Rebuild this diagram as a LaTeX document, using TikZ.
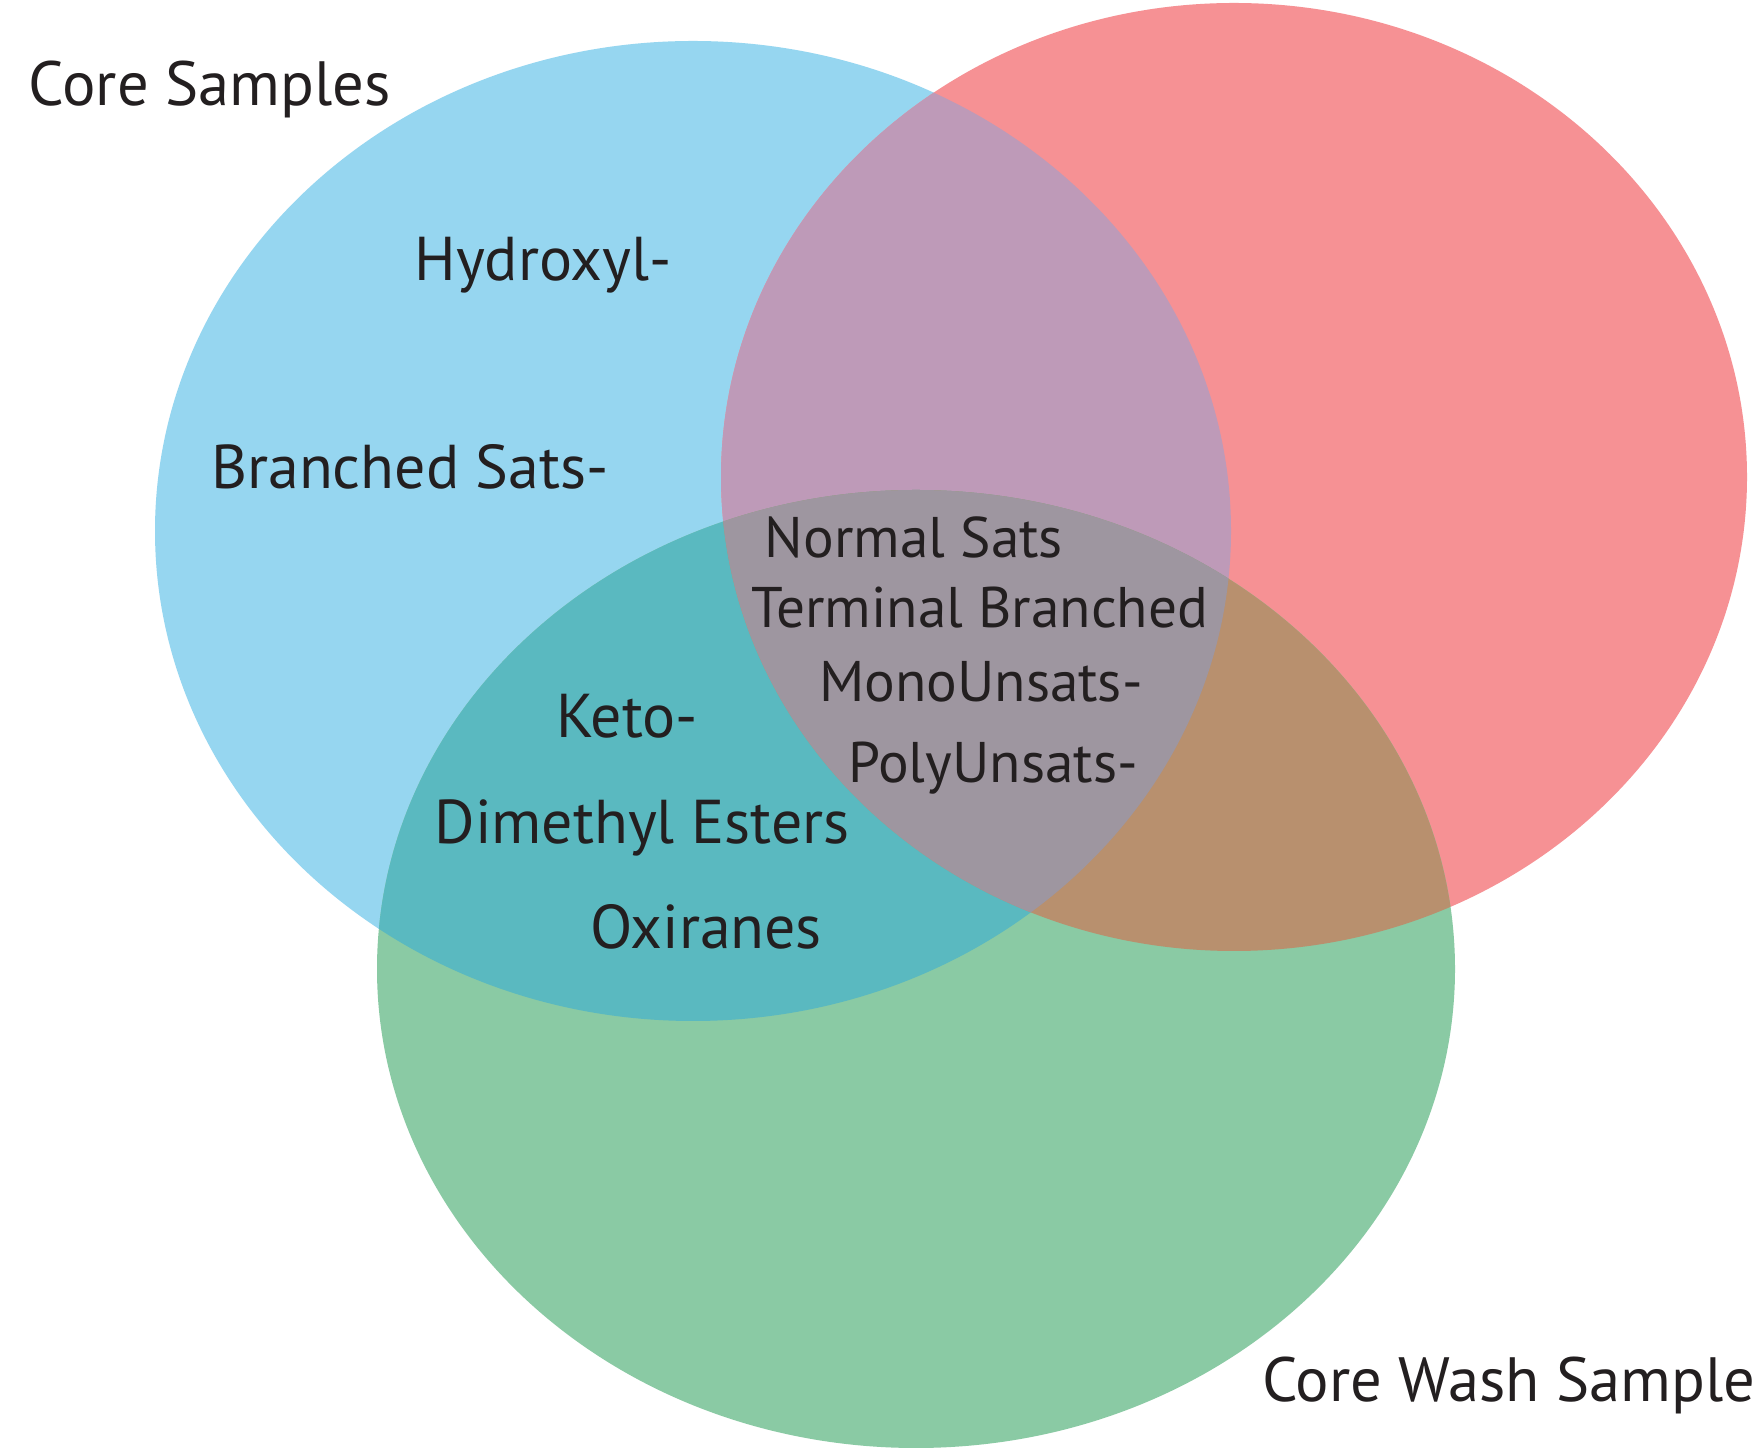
\documentclass[tikz,border=0pt]{standalone}
\usepackage{fontspec}
\setmainfont{PT Sans}
\usepackage{xcolor}
\definecolor{core-blue}{RGB}{150,214,240}
\definecolor{wash-red}{RGB}{246,145,148}
\definecolor{wash-green}{RGB}{138,202,164}
\definecolor{blue-red}{RGB}{190,154,184}
\definecolor{blue-green}{RGB}{90,185,192}
\definecolor{red-green}{RGB}{184,144,110}
\definecolor{all-three}{RGB}{158,150,160}
\definecolor{ink}{RGB}{35,31,32}
\tikzstyle{setlabel}=[text=ink, inner sep=0pt, font=\fontsize{17.8}{22}\selectfont]
\tikzstyle{outer}=[text=ink, inner sep=0pt, anchor=base, font=\fontsize{17.6}{21}\selectfont]
\tikzstyle{inner}=[text=ink, inner sep=0pt, anchor=base, font=\fontsize{16.3}{20}\selectfont]
\def\blueset{(6.93,9.24) ellipse [x radius=5.38, y radius=4.90]}
\def\redset{(12.34,9.78) ellipse [x radius=5.13, y radius=4.74]}
\def\greenset{(9.16,4.86) ellipse [x radius=5.39, y radius=4.79]}

\begin{document}
\begin{tikzpicture}
	\useasboundingbox[fill=white] (0,0) rectangle (17.58,14.55);
	\fill[core-blue] \blueset;
	\fill[wash-red] \redset;
	\fill[wash-green] \greenset;
	\begin{scope}
		\clip \blueset;
		\fill[blue-red] \redset;
		\fill[blue-green] \greenset;
	\end{scope}
	\begin{scope}
		\clip \redset;
		\fill[red-green] \greenset;
		\clip \greenset;
		\fill[all-three] \blueset;
	\end{scope}
	\node[setlabel, anchor=base west] (coresamples) at (0.28,13.49) {Core Samples};
	\node[setlabel, anchor=base east] (washsample) at (17.56,0.53) {Core Wash Sample};
	\node[outer] (hydroxyl) at (5.43,11.74) {Hydroxyl-};
	\node[outer] (branched) at (4.10,9.66) {Branched Sats-};
	\node[outer] (keto) at (6.27,7.17) {Keto-};
	\node[outer] (dimethyl) at (6.42,6.11) {Dimethyl Esters};
	\node[outer] (oxiranes) at (7.06,5.06) {Oxiranes};
	\node[inner] (normal) at (9.14,8.97) {Normal Sats};
	\node[inner] (terminal) at (9.80,8.27) {Terminal Branched};
	\node[inner] (mono) at (9.81,7.53) {MonoUnsats-};
	\node[inner] (poly) at (9.93,6.72) {PolyUnsats-};
\end{tikzpicture}
\end{document}
